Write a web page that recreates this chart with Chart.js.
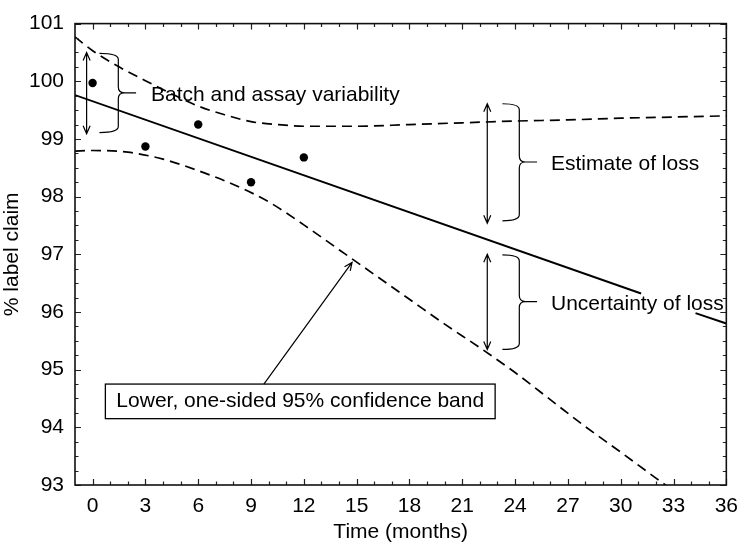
<!DOCTYPE html>
<html><head><meta charset="utf-8">
<script src="https://cdn.jsdelivr.net/npm/chart.js@4/dist/chart.umd.min.js"></script>
<style>html,body{margin:0;padding:0;background:#fff}canvas{display:block}</style>
</head><body><canvas id="c" width="747" height="545" style="width:747px;height:545px"></canvas>
<script>
// ---- data ----
const obsMonths = [0, 3, 6, 9, 12];
const obsClaim = [99.97, 98.87, 99.25, 98.25, 98.68];

const fitMonths = [-1, 31.16, 32.7, 34.25, 36];
const fitClaim = [99.76, 96.32, null, 95.98, 95.80];

const upperMonths = [-1, 0, 1.5, 3, 4.5, 6, 7.5, 9, 10.5, 12, 15, 18, 21, 24, 27, 30, 33, 36];
const upperClaim = [100.77, 100.53, 100.25, 100.01, 99.78, 99.57, 99.42, 99.30, 99.25, 99.22, 99.22, 99.25, 99.28, 99.31, 99.33, 99.36, 99.38, 99.40];

const lowerMonths = [-1, 0, 2, 4, 6, 8, 10, 12, 14, 16, 18, 20, 22, 24, 26, 28, 30, 32, 33];
const lowerClaim = [98.79, 98.80, 98.77, 98.65, 98.45, 98.21, 97.91, 97.51, 97.08, 96.65, 96.22, 95.79, 95.38, 94.95, 94.48, 94.01, 93.57, 93.12, 92.90];

const xTickLabels = [0, 3, 6, 9, 12, 15, 18, 21, 24, 27, 30, 33, 36];
const yTickLabels = [93, 94, 95, 96, 97, 98, 99, 100, 101];

const xTitle = 'Time (months)';
const yTitle = '% label claim';

// annotation anchors in data units (months, % label claim)
const notes = {
  arrows: [
    {t: -0.34, v1: 100.50, v2: 99.09},
    {t: 22.42, v1: 99.61, v2: 97.54},
    {t: 22.42, v1: 97.00, v2: 95.35}
  ],
  braces: [
    {t0: 0.39, t1: 1.46, t2: 2.47, top: 100.485, mid: 99.80, bot: 99.11},
    {t0: 23.28, t1: 24.24, t2: 25.25, top: 99.61, mid: 98.60, bot: 97.58},
    {t0: 23.28, t1: 24.24, t2: 25.25, top: 96.99, mid: 96.18, bot: 95.35}
  ],
  labels: [
    {text: 'Batch and assay variability', t: 3.32, v: 99.76},
    {text: 'Estimate of loss', t: 26.04, v: 98.57},
    {text: 'Uncertainty of loss', t: 26.04, v: 96.14}
  ],
  box: {text: 'Lower, one-sided 95% confidence band', t: 1.35, v: 94.46, top: 94.75, bot: 94.15},
  pointer: {t1: 9.73, v1: 94.75, t2: 14.74, v2: 96.86}
};

const FAMILY = '"Liberation Sans", Arial, Helvetica, sans-serif';
Chart.defaults.font.family = FAMILY;
Chart.defaults.font.size = 21;
Chart.defaults.color = '#000';

function pts(xs, ys) { return xs.map((t, i) => ({x: t, y: ys[i]})); }

function head(ctx, x, y, ang, len, hw) {
  const bx = x - Math.cos(ang) * len, by = y - Math.sin(ang) * len;
  const nx = -Math.sin(ang) * hw, ny = Math.cos(ang) * hw;
  ctx.moveTo(bx + nx, by + ny); ctx.lineTo(x, y); ctx.lineTo(bx - nx, by - ny);
}

const overlay = {
  id: 'overlay',
  afterDraw(chart) {
    const {ctx, chartArea: a, scales: {x, y}} = chart;
    const X = t => x.getPixelForValue(t), Y = v => y.getPixelForValue(v);
    ctx.save();
    ctx.strokeStyle = '#222'; ctx.lineWidth = 1.2;
    ctx.beginPath();
    for (let m = 0; m <= 36; m++) {
      const px = Math.round(X(m)) + 0.5;
      const len = m % 3 === 0 ? 6 : 3.5;
      ctx.moveTo(px, a.bottom); ctx.lineTo(px, a.bottom - len);
      ctx.moveTo(px, a.top); ctx.lineTo(px, a.top + len);
    }
    for (let k = 93 * 4; k <= 101 * 4; k++) {
      const py = Math.round(Y(k / 4)) + 0.5;
      const len = k % 4 === 0 ? 6 : 3.5;
      ctx.moveTo(a.left, py); ctx.lineTo(a.left + len, py);
      ctx.moveTo(a.right, py); ctx.lineTo(a.right - len, py);
    }
    ctx.stroke();
    ctx.lineWidth = 1.6; ctx.strokeStyle = '#111';
    ctx.strokeRect(a.left, a.top, a.width, a.height);

    ctx.strokeStyle = '#000'; ctx.lineWidth = 1.2;
    ctx.beginPath();
    notes.arrows.forEach(r => {
      const px = X(r.t), y1 = Y(r.v1), y2 = Y(r.v2);
      ctx.moveTo(px, y1); ctx.lineTo(px, y2);
      head(ctx, px, y1, -Math.PI / 2, 8, 3.5);
      head(ctx, px, y2, Math.PI / 2, 8, 3.5);
    });
    ctx.stroke();

    ctx.beginPath();
    notes.braces.forEach(b => {
      const x0 = X(b.t0), x1 = X(b.t1), x2 = X(b.t2);
      const yt = Y(b.top), ym = Y(b.mid), yb = Y(b.bot);
      const r = 6;
      ctx.moveTo(x0, yt);
      ctx.quadraticCurveTo(x1, yt, x1, yt + r);
      ctx.lineTo(x1, ym - r);
      ctx.quadraticCurveTo(x1, ym, x1 + r, ym);
      ctx.lineTo(x2, ym);
      ctx.moveTo(x1 + r, ym);
      ctx.quadraticCurveTo(x1, ym, x1, ym + r);
      ctx.lineTo(x1, yb - r);
      ctx.quadraticCurveTo(x1, yb, x0, yb);
    });
    ctx.stroke();

    ctx.fillStyle = '#000';
    ctx.font = '21px ' + FAMILY;
    ctx.textBaseline = 'middle'; ctx.textAlign = 'left';
    notes.labels.forEach(l => ctx.fillText(l.text, X(l.t), Y(l.v)));

    const bx = notes.box;
    const tx = X(bx.t), w = ctx.measureText(bx.text).width;
    const top = Y(bx.top), bot = Y(bx.bot);
    ctx.fillStyle = '#fff';
    ctx.fillRect(tx - 11, top, w + 22, bot - top);
    ctx.lineWidth = 1.3;
    ctx.strokeRect(tx - 11, top, w + 22, bot - top);
    ctx.fillStyle = '#000';
    ctx.fillText(bx.text, tx, Y(bx.v));

    const p = notes.pointer;
    const px1 = X(p.t1), py1 = Y(p.v1), px2 = X(p.t2), py2 = Y(p.v2);
    ctx.lineWidth = 1.2;
    ctx.beginPath();
    ctx.moveTo(px1, py1); ctx.lineTo(px2, py2);
    head(ctx, px2, py2, Math.atan2(py2 - py1, px2 - px1), 8, 3.5);
    ctx.stroke();
    ctx.restore();
  }
};

new Chart(document.getElementById('c'), {
  type: 'scatter',
  data: {
    datasets: [
      {label: 'Upper band', data: pts(upperMonths, upperClaim), showLine: true, borderColor: '#000',
       borderWidth: 1.7, borderDash: [10, 6], pointRadius: 0, tension: 0.4, cubicInterpolationMode: 'monotone'},
      {label: 'Lower band', data: pts(lowerMonths, lowerClaim), showLine: true, borderColor: '#000',
       borderWidth: 1.7, borderDash: [10, 6], pointRadius: 0, tension: 0.4, cubicInterpolationMode: 'monotone'},
      {label: 'Fit', data: pts(fitMonths, fitClaim), showLine: true, spanGaps: false, borderColor: '#000',
       borderWidth: 1.9, pointRadius: 0, tension: 0},
      {label: 'Observed', data: pts(obsMonths, obsClaim), showLine: false, pointRadius: 4.2,
       pointBackgroundColor: '#000', pointBorderWidth: 0, borderColor: '#000'}
    ]
  },
  options: {
    responsive: false,
    animation: false,
    devicePixelRatio: 1,
    layout: {padding: {top: 19, right: 13, left: 0, bottom: 0}},
    plugins: {legend: {display: false}, tooltip: {enabled: false}},
    scales: {
      x: {
        type: 'linear', min: -1, max: 36,
        afterBuildTicks: s => { s.ticks = xTickLabels.map(v => ({value: v})); },
        afterFit: s => { s.height = 60; },
        grid: {display: false, drawTicks: false},
        border: {display: false},
        ticks: {padding: 9, autoSkip: false, maxRotation: 0, font: {size: 21}, color: '#000'},
        title: {display: true, text: xTitle, padding: {top: 0, bottom: 0}, font: {size: 21}, color: '#000'}
      },
      y: {
        type: 'linear', min: 93, max: 101,
        afterBuildTicks: s => { s.ticks = yTickLabels.map(v => ({value: v})); },
        afterFit: s => { s.width = 75; },
        grid: {display: false, drawTicks: false},
        border: {display: false},
        ticks: {padding: 11, font: {size: 21}, color: '#000'},
        title: {display: true, text: yTitle, padding: {top: 0, bottom: 0}, font: {size: 21}, color: '#000'}
      }
    }
  },
  plugins: [overlay]
});
</script>
</body></html>
